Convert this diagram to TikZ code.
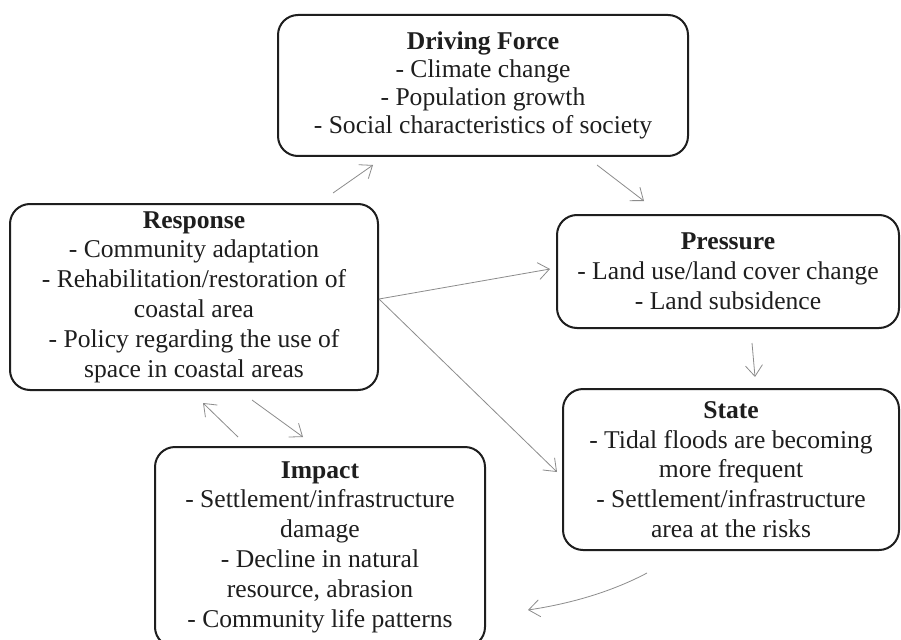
\documentclass[tikz,border=0pt]{standalone}
\usepackage{fontspec}
\setmainfont{Liberation Serif}
\usetikzlibrary{arrows.meta}
\definecolor{boxc}{HTML}{1E1E1E}
\definecolor{arrc}{HTML}{8C8C8C}
\begin{document}
\begin{tikzpicture}[x=1pt,y=-1pt,
  box/.style={draw=boxc, line width=2pt, rounded corners=20pt, align=center, inner sep=0pt, text=boxc,
    font=\fontsize{25.6}{29.8}\selectfont},
  conn/.style={draw=arrc, line width=0.8pt, -{Straight Barb[length=11pt,width=17pt,line width=0.8pt]}}]
\useasboundingbox (0,0) rectangle (901,639);
\fill[white] (0,0) rectangle (901,639);
\node[box, minimum width=410, minimum height=141, font=\fontsize{25.6}{28}\selectfont] (drive) at (483,85.5)
  {\textbf{Driving Force}\\- Climate change\\- Population growth\\- Social characteristics of society};
\node[box, minimum width=368, minimum height=186] (resp) at (194,297)
  {\textbf{Response}\\- Community adaptation\\- Rehabilitation/restoration of\\coastal area\\- Policy regarding the use of\\space in coastal areas};
\node[box, minimum width=342, minimum height=113] (press) at (728,271.5)
  {\textbf{Pressure}\\- Land use/land cover change\\- Land subsidence};
\node[box, minimum width=336, minimum height=161] (state) at (731,469.5)
  {\textbf{State}\\- Tidal floods are becoming\\more frequent\\- Settlement/infrastructure\\area at the risks};
\node[box, minimum width=330, minimum height=200] (impact) at (320,547)
  {\textbf{Impact}\\- Settlement/infrastructure\\damage\\- Decline in natural\\resource, abrasion\\- Community life patterns};
% connector end points
\coordinate (rd1) at (333,193); \coordinate (dr1) at (373,165);
\coordinate (dp1) at (597,165); \coordinate (pd1) at (644,201);
\coordinate (rp1) at (379,299); \coordinate (pr1) at (550,269);
\coordinate (sr1) at (557,472);
\coordinate (ps1) at (752,343); \coordinate (sp1) at (755,377);
\coordinate (si1) at (647,573); \coordinate (is1) at (528,610);
\coordinate (ir1) at (238,437); \coordinate (ri1) at (203,403);
\coordinate (ri2) at (252,400); \coordinate (ir2) at (303,437);
\draw[conn] (rd1) -- (dr1);
\draw[conn] (dp1) -- (pd1);
\draw[conn] (rp1) -- (pr1);
\draw[conn] (rp1) -- (sr1);
\draw[conn] (ps1) -- (sp1);
\draw[conn] (si1) .. controls (615,590) and (575,603) .. (is1);
\draw[conn] (ir1) -- (ri1);
\draw[conn] (ri2) -- (ir2);
\end{tikzpicture}
\end{document}
